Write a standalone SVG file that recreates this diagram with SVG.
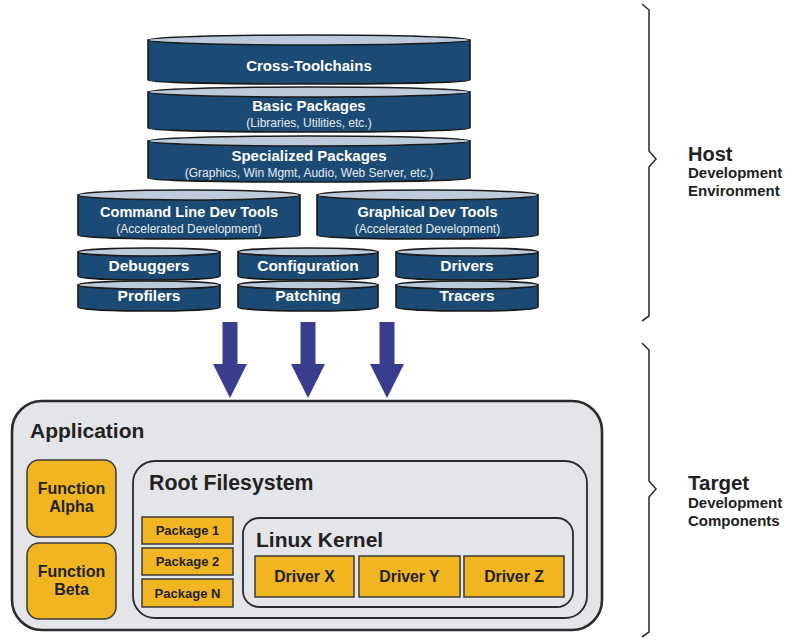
<svg xmlns="http://www.w3.org/2000/svg" width="801" height="644" viewBox="0 0 801 644">
<style>
.body{fill:#1b4b74;stroke:#1a1a1a;stroke-width:1.6}
.top{fill:#bccadb;stroke:#1a1a1a;stroke-width:1.6}
.t{font-family:"Liberation Sans",Arial,sans-serif;font-weight:bold;fill:#fff;text-anchor:middle}
.s{font-family:"Liberation Sans",Arial,sans-serif;fill:#e4ebf3;text-anchor:middle;font-size:12px}
.box{fill:#e4e5e8;stroke:#2b2b2b}
.y{fill:#f2b522;stroke:#3a3a3a;stroke-width:1.5}
.d{font-family:"Liberation Sans",Arial,sans-serif;font-weight:bold;fill:#222}
.arr{fill:#393d8e}
.br{fill:none;stroke:#333;stroke-width:1.6}
</style>
<g id="cross-toolchains">
<path class="body" d="M148,40 L148,80 A161,4 0 0 0 470,80 L470,40 Z"/>
<ellipse class="top" cx="309" cy="40" rx="161" ry="5"/>
<text class="t" x="309" y="71" font-size="15">Cross-Toolchains</text>
</g>
<g id="basic-packages">
<path class="body" d="M148,92 L148,128 A161,4 0 0 0 470,128 L470,92 Z"/>
<ellipse class="top" cx="309" cy="92" rx="161" ry="5"/>
<text class="t" x="309" y="111" font-size="15">Basic Packages</text>
<text class="s" x="309" y="127">(Libraries, Utilities, etc.)</text>
</g>
<g id="specialized-packages">
<path class="body" d="M148,141 L148,178 A161,4 0 0 0 470,178 L470,141 Z"/>
<ellipse class="top" cx="309" cy="141" rx="161" ry="5"/>
<text class="t" x="309" y="161" font-size="15">Specialized Packages</text>
<text class="s" x="309" y="177">(Graphics, Win Mgmt, Audio, Web Server, etc.)</text>
</g>
<g id="command-line-dev-tools">
<path class="body" d="M78,195 L78,235 A111,4 0 0 0 300,235 L300,195 Z"/>
<ellipse class="top" cx="189" cy="195" rx="111" ry="5"/>
<text class="t" x="189" y="217" font-size="14.6">Command Line Dev Tools</text>
<text class="s" x="189" y="233">(Accelerated Development)</text>
</g>
<g id="graphical-dev-tools">
<path class="body" d="M317,195 L317,235 A110.5,4 0 0 0 538,235 L538,195 Z"/>
<ellipse class="top" cx="427.5" cy="195" rx="110.5" ry="5"/>
<text class="t" x="427.5" y="217" font-size="14.6">Graphical Dev Tools</text>
<text class="s" x="427.5" y="233">(Accelerated Development)</text>
</g>
<g id="debuggers">
<path class="body" d="M78,252 L78,276 A71,4 0 0 0 220,276 L220,252 Z"/>
<ellipse class="top" cx="149" cy="252" rx="71" ry="4"/>
<text class="t" x="149" y="271" font-size="15.5">Debuggers</text>
</g>
<g id="profilers">
<path class="body" d="M78,285 L78,307 A71,4 0 0 0 220,307 L220,285 Z"/>
<ellipse class="top" cx="149" cy="285" rx="71" ry="4"/>
<text class="t" x="149" y="301" font-size="15.5">Profilers</text>
</g>
<g id="configuration">
<path class="body" d="M238,252 L238,276 A70,4 0 0 0 378,276 L378,252 Z"/>
<ellipse class="top" cx="308" cy="252" rx="70" ry="4"/>
<text class="t" x="308" y="271" font-size="15.5">Configuration</text>
</g>
<g id="patching">
<path class="body" d="M238,285 L238,307 A70,4 0 0 0 378,307 L378,285 Z"/>
<ellipse class="top" cx="308" cy="285" rx="70" ry="4"/>
<text class="t" x="308" y="301" font-size="15.5">Patching</text>
</g>
<g id="drivers">
<path class="body" d="M396,252 L396,276 A71,4 0 0 0 538,276 L538,252 Z"/>
<ellipse class="top" cx="467" cy="252" rx="71" ry="4"/>
<text class="t" x="467" y="271" font-size="15.5">Drivers</text>
</g>
<g id="tracers">
<path class="body" d="M396,285 L396,307 A71,4 0 0 0 538,307 L538,285 Z"/>
<ellipse class="top" cx="467" cy="285" rx="71" ry="4"/>
<text class="t" x="467" y="301" font-size="15.5">Tracers</text>
</g>
<g id="connectors">
<path class="arr" d="M222.5,322 H237.5 V364 H247 L230,398 L213,364 H222.5 Z"/>
<path class="arr" d="M300.5,322 H315.5 V364 H325 L308,398 L291,364 H300.5 Z"/>
<path class="arr" d="M379.5,322 H394.5 V364 H404 L387,398 L370,364 H379.5 Z"/>
</g>
<g id="application">
<rect class="box" x="12" y="401" width="590" height="229" rx="30" stroke-width="2.6"/>
<text class="d" x="30" y="438" font-size="21">Application</text>
</g>
<g id="function-alpha">
<rect class="y" x="27" y="460" width="89" height="77" rx="12"/>
<text class="d" x="71.5" y="494" font-size="16" text-anchor="middle">Function</text>
<text class="d" x="71.5" y="512" font-size="16" text-anchor="middle">Alpha</text>
</g>
<g id="function-beta">
<rect class="y" x="27" y="543" width="89" height="76" rx="12"/>
<text class="d" x="71.5" y="577" font-size="16" text-anchor="middle">Function</text>
<text class="d" x="71.5" y="595" font-size="16" text-anchor="middle">Beta</text>
</g>
<g id="root-filesystem">
<rect class="box" x="133" y="461" width="454" height="157" rx="22" stroke-width="1.8"/>
<text class="d" x="149" y="490" font-size="21.3">Root Filesystem</text>
</g>
<g id="package-1">
<rect class="y" x="142" y="517" width="91" height="27"/>
<text class="d" x="187.5" y="535" font-size="13" text-anchor="middle">Package 1</text>
</g>
<g id="package-2">
<rect class="y" x="142" y="548" width="91" height="27"/>
<text class="d" x="187.5" y="566" font-size="13" text-anchor="middle">Package 2</text>
</g>
<g id="package-n">
<rect class="y" x="142" y="579" width="91" height="28"/>
<text class="d" x="187.5" y="598" font-size="13" text-anchor="middle">Package N</text>
</g>
<g id="linux-kernel">
<rect class="box" x="243" y="518" width="330" height="89" rx="16" stroke-width="1.8"/>
<text class="d" x="256" y="547" font-size="21">Linux Kernel</text>
</g>
<g id="driver-x">
<rect class="y" x="255" y="556" width="99" height="41"/>
<text class="d" x="304.5" y="582" font-size="15.8" text-anchor="middle">Driver X</text>
</g>
<g id="driver-y">
<rect class="y" x="359" y="556" width="101" height="41"/>
<text class="d" x="409.5" y="582" font-size="15.8" text-anchor="middle">Driver Y</text>
</g>
<g id="driver-z">
<rect class="y" x="464" y="556" width="100" height="41"/>
<text class="d" x="514" y="582" font-size="15.8" text-anchor="middle">Driver Z</text>
</g>
<g id="host-brace">
<path class="br" d="M642,4 L649,10 V151 L656,159 L649,167 V316 L642,321"/>
<text class="d" x="688" y="161" font-size="20">Host</text>
<text class="d" x="688" y="178" font-size="15">Development</text>
<text class="d" x="688" y="196" font-size="15">Environment</text>
</g>
<g id="target-brace">
<path class="br" d="M642,343 L649,350 V481 L656,489 L649,497 V632 L642,637"/>
<text class="d" x="688" y="490" font-size="20.5">Target</text>
<text class="d" x="688" y="508" font-size="15">Development</text>
<text class="d" x="688" y="526" font-size="15">Components</text>
</g>
</svg>
